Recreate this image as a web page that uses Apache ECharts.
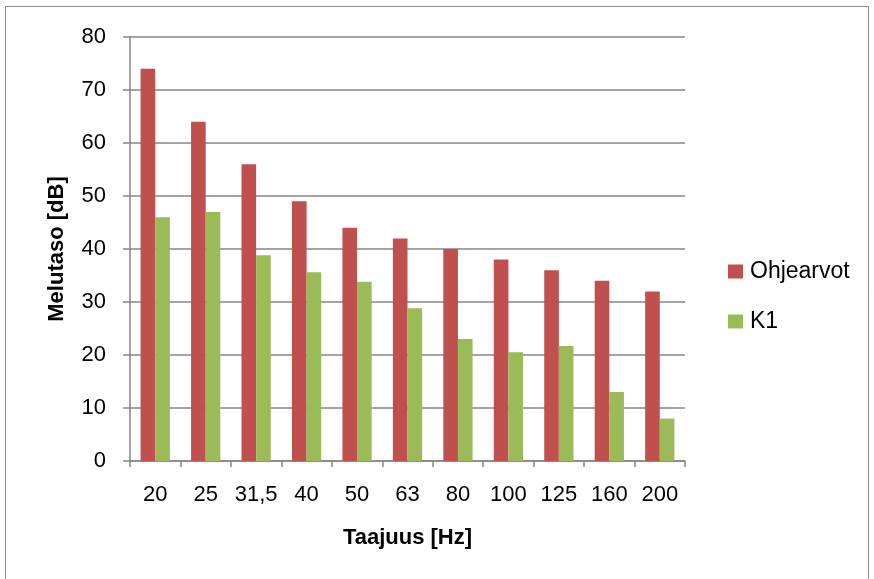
<!DOCTYPE html>
<html>
<head>
<meta charset="utf-8">
<script src="https://cdn.jsdelivr.net/npm/echarts@6/dist/echarts.min.js"></script>
<style>
html,body{margin:0;padding:0;background:#fff;}
#c{width:874px;height:579px;}
</style>
</head>
<body>
<div id="c"></div>
<script>
const categories = ['20','25','31,5','40','50','63','80','100','125','160','200'];
const ohjearvot = [74, 64, 56, 49, 44, 42, 40, 38, 36, 34, 32];
const k1 = [46, 47, 38.8, 35.6, 33.8, 28.8, 23, 20.5, 21.7, 13, 8];
const yTicks = [0, 10, 20, 30, 40, 50, 60, 70, 80];

const FONT = '"Liberation Sans", "Open Sans", sans-serif';
const chart = echarts.init(document.getElementById('c'), null, {renderer: 'canvas'});
chart.setOption({
  animation: false,
  backgroundColor: '#fff',
  graphic: [{
    type: 'rect',
    shape: {x: 5.5, y: 6.5, width: 863, height: 590},
    style: {fill: 'none', stroke: '#8c8c8c', lineWidth: 1},
    silent: true
  }],
  grid: {left: 130, right: 189, top: 37, bottom: 118},
  legend: {
    orient: 'vertical',
    left: 728,
    top: 260,
    padding: 0,
    itemWidth: 15,
    itemHeight: 14,
    itemGap: 27,
    icon: 'rect',
    textStyle: {fontFamily: FONT, fontSize: 23, color: '#000', padding: [0,0,0,2]},
    data: ['Ohjearvot', 'K1']
  },
  xAxis: {
    type: 'category',
    data: categories,
    name: 'Taajuus [Hz]',
    nameLocation: 'middle',
    nameGap: 66,
    nameTextStyle: {fontFamily: FONT, fontSize: 22, fontWeight: 'bold', color: '#000'},
    axisLine: {lineStyle: {color: '#868686', width: 1.5}},
    axisTick: {show: true, length: 6, lineStyle: {color: '#868686', width: 1.5}},
    axisLabel: {fontFamily: FONT, fontSize: 22, color: '#000', margin: 23, interval: 0}
  },
  yAxis: {
    type: 'value',
    min: yTicks[0],
    max: yTicks[yTicks.length - 1],
    interval: 10,
    name: 'Melutaso [dB]',
    nameLocation: 'middle',
    nameGap: 62,
    nameRotate: 90,
    nameTextStyle: {fontFamily: FONT, fontSize: 22, fontWeight: 'bold', color: '#000'},
    axisLine: {show: true, lineStyle: {color: '#868686', width: 1.5}},
    axisTick: {show: true, length: 7, lineStyle: {color: '#868686', width: 1.5}},
    axisLabel: {fontFamily: FONT, fontSize: 22, color: '#000', margin: 24},
    splitLine: {lineStyle: {color: '#868686', width: 1.5}}
  },
  series: [
    {
      name: 'Ohjearvot', type: 'bar', data: ohjearvot,
      itemStyle: {color: '#C0504D'},
      barGap: '0%', barCategoryGap: '42%'
    },
    {
      name: 'K1', type: 'bar', data: k1,
      itemStyle: {color: '#9BBB59'},
      barGap: '0%', barCategoryGap: '42%'
    }
  ]
});
</script>
</body>
</html>
